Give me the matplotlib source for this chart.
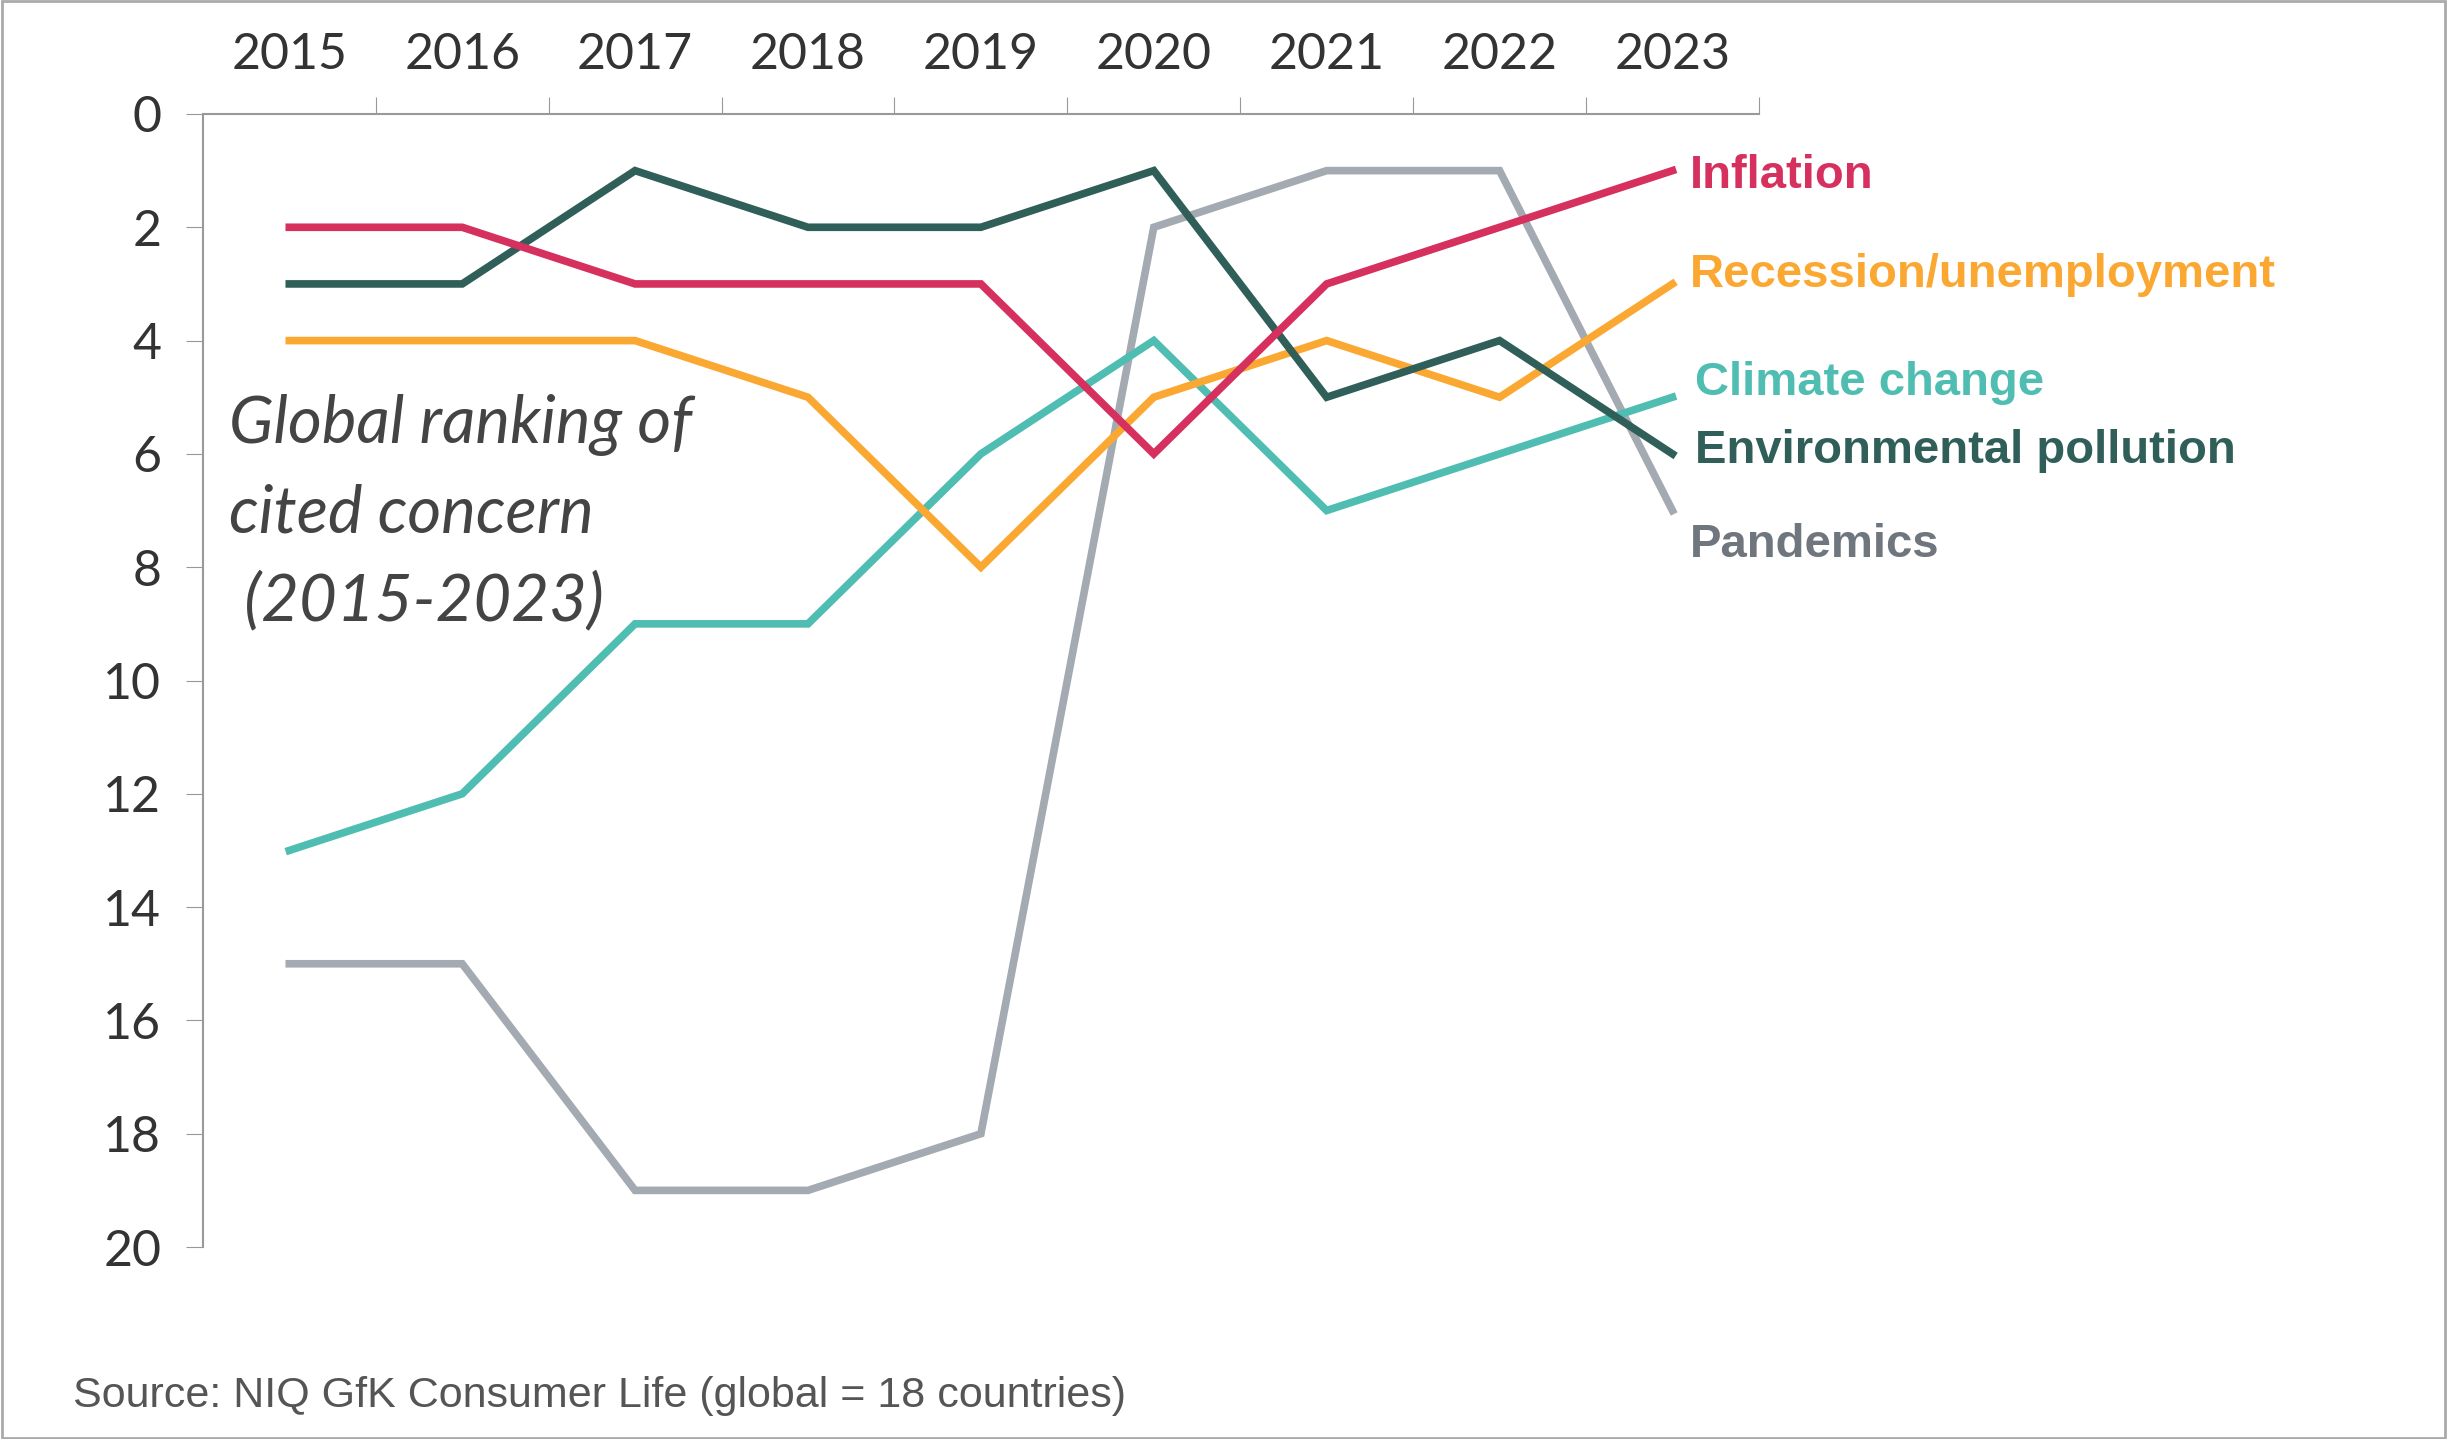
import matplotlib.pyplot as plt
from matplotlib.patches import Rectangle

years = [2015, 2016, 2017, 2018, 2019, 2020, 2021, 2022, 2023]
inflation = [2, 2, 3, 3, 3, 6, 3, 2, 1]
recession = [4, 4, 4, 5, 8, 5, 4, 5, 3]
climate = [13, 12, 9, 9, 6, 4, 7, 6, 5]
pollution = [3, 3, 1, 2, 2, 1, 5, 4, 6]
pandemics = [15, 15, 19, 19, 18, 2, 1, 1, 7]

series = [
    ("Pandemics", pandemics, "#a4aab1", "#6f767d", 7.6, 2023.1),
    ("Climate change", climate, "#4fbdb1", "#4fbdb1", 4.75, 2023.13),
    ("Recession/unemployment", recession, "#fba833", "#fba833", 2.85, 2023.1),
    ("Environmental pollution", pollution, "#2f5f58", "#2f5f58", 5.95, 2023.13),
    ("Inflation", inflation, "#d5305e", "#d5305e", 1.1, 2023.1),
]

fig = plt.figure(figsize=(24.47, 14.39), dpi=100)
ax = fig.add_axes([0.0829, 0.1334, 0.6359, 0.7874])

for name, vals, col, tcol, ly, lx in series:
    ax.plot(years, vals, color=col, lw=5.5, solid_joinstyle="miter")
    ax.text(lx, ly, name, color=tcol, fontsize=34, fontweight="bold",
            family="Liberation Sans", va="center", ha="left")

ax.set_xlim(2014.5, 2023.5)
ax.set_ylim(20, 0)
ax.set_yticks(range(0, 21, 2))
ax.xaxis.tick_top()
ax.set_xticks([y + 0.5 for y in years])
ax.set_xticklabels([])
ax.set_xticks(years, minor=True)
ax.set_xticklabels([str(y) for y in years], minor=True)
ax.tick_params(axis="x", which="minor", length=0, pad=26, labelsize=36,
               labelcolor="#333333")
ax.tick_params(axis="x", which="major", length=12, color="#999999")
ax.tick_params(axis="y", length=12, color="#999999", labelsize=36,
               labelcolor="#333333", pad=18)
for lab in ax.get_xticklabels(minor=True) + ax.get_yticklabels():
    lab.set_family("Lato")
ax.spines["right"].set_visible(False)
ax.spines["bottom"].set_visible(False)
for s in ("left", "top"):
    ax.spines[s].set_color("#999999")
    ax.spines[s].set_linewidth(1.5)

ax.text(2014.65, 4.95, "Global ranking of\ncited concern\n (2015-2023)", fontsize=47,
        style="italic", family="Lato", color="#444444", va="top", ha="left",
        linespacing=1.55)

fig.text(0.03, 0.022, "Source: NIQ GfK Consumer Life (global = 18 countries)",
         fontsize=31, family="Liberation Sans", color="#555555")
fig.patches.append(Rectangle((0.001, 0.001), 0.998, 0.998, transform=fig.transFigure,
                             fill=False, edgecolor="#aaaaaa", lw=2))

fig.savefig("out.png", dpi=100)
